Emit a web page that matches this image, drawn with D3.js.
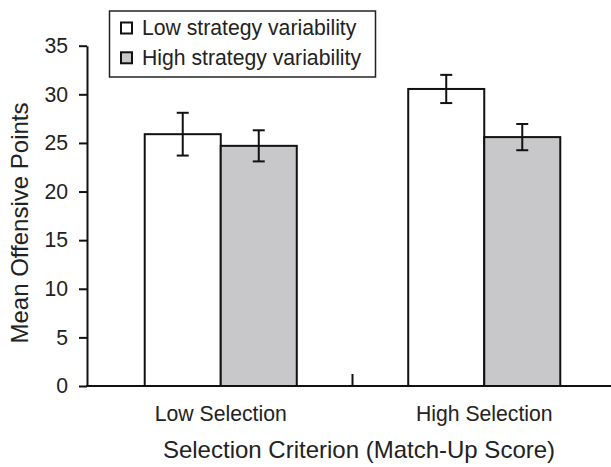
<!DOCTYPE html>
<html>
<head>
<meta charset="utf-8">
<script src="https://cdn.jsdelivr.net/npm/d3@7/dist/d3.min.js"></script>
<style>
  html, body { margin: 0; padding: 0; background: #fff; }
  svg { display: block; }
  text { font-family: "Liberation Sans", Arial, Helvetica, sans-serif; fill: #222; }
</style>
</head>
<body>
<svg id="chart" width="611" height="467"></svg>
<script>
// Mean offensive points by selection criterion and strategy variability
const categories = ["Low Selection", "High Selection"];
const seriesNames = ["Low strategy variability", "High strategy variability"];
const lowVariability = [25.9, 30.55];
const lowVariabilityErr = [2.2, 1.45];
const highVariability = [24.7, 25.6];
const highVariabilityErr = [1.6, 1.35];
const yTicks = [0, 5, 10, 15, 20, 25, 30, 35];

const fills = ["#ffffff", "#c8c8ca"];
const values = [lowVariability, highVariability];
const errors = [lowVariabilityErr, highVariabilityErr];

const labelSize = "21.2px";
const titleSize = "24px";

const svg = d3.select("#chart");
const plotLeft = 87, plotRight = 611, plotTop = 45.7, plotBottom = 386;

const y = d3.scaleLinear().domain([0, 35]).range([plotBottom, plotTop]);
const x0 = d3.scaleBand().domain(categories).range([89, 616]).padding(0);
const x1 = d3.scaleBand().domain(seriesNames).range([0, x0.bandwidth()])
  .paddingInner(0).paddingOuter(0.733);

const barData = (c, ci) => seriesNames.map((s, si) => ({ s, si, v: values[si][ci], e: errors[si][ci] }));

// bars
const groups = svg.append("g").selectAll("g")
  .data(categories)
  .join("g")
  .attr("transform", d => `translate(${x0(d)},0)`);

groups.selectAll("rect")
  .data(barData)
  .join("rect")
  .attr("x", d => x1(d.s))
  .attr("y", d => y(d.v))
  .attr("width", x1.bandwidth())
  .attr("height", d => y(0) - y(d.v))
  .attr("fill", d => fills[d.si])
  .attr("stroke", "#111")
  .attr("stroke-width", 2);

// error bars
const errG = groups.selectAll("g.err")
  .data(barData)
  .join("g")
  .attr("class", "err")
  .attr("stroke", "#111")
  .attr("stroke-width", 2);

errG.append("line")
  .attr("x1", d => x1(d.s) + x1.bandwidth() / 2)
  .attr("x2", d => x1(d.s) + x1.bandwidth() / 2)
  .attr("y1", d => y(d.v + d.e))
  .attr("y2", d => y(d.v - d.e));
errG.selectAll("line.cap")
  .data(d => [d.v + d.e, d.v - d.e].map(val => ({ d, val })))
  .join("line")
  .attr("class", "cap")
  .attr("x1", o => x1(o.d.s) + x1.bandwidth() / 2 - 6)
  .attr("x2", o => x1(o.d.s) + x1.bandwidth() / 2 + 6)
  .attr("y1", o => y(o.val))
  .attr("y2", o => y(o.val));

// y axis
const yAxis = svg.append("g")
  .attr("transform", `translate(${plotLeft},0)`)
  .call(d3.axisLeft(y).tickValues(yTicks).tickSize(8).tickPadding(11).tickSizeOuter(0));
yAxis.select(".domain").attr("stroke", "#111").attr("stroke-width", 2);
yAxis.selectAll(".tick line").attr("stroke", "#111").attr("stroke-width", 2);
yAxis.selectAll(".tick text").style("font-size", labelSize).attr("fill", "#222");

// x axis baseline and category labels
const xAxis = svg.append("g")
  .attr("transform", `translate(0,${plotBottom})`)
  .call(d3.axisBottom(x0).tickSize(0).tickPadding(20));
xAxis.select(".domain").remove();
xAxis.selectAll(".tick text").style("font-size", labelSize).attr("fill", "#222");
svg.append("line")
  .attr("x1", plotLeft - 1).attr("x2", plotRight)
  .attr("y1", plotBottom).attr("y2", plotBottom)
  .attr("stroke", "#111").attr("stroke-width", 2);

// divider tick between the two groups
const divX = (x0(categories[0]) + x0.bandwidth() + x0(categories[1])) / 2;
svg.append("line")
  .attr("x1", divX).attr("x2", divX)
  .attr("y1", plotBottom).attr("y2", plotBottom - 12)
  .attr("stroke", "#111").attr("stroke-width", 2);

// axis titles
svg.append("text")
  .attr("x", 359).attr("y", 458)
  .attr("text-anchor", "middle")
  .style("font-size", titleSize)
  .text("Selection Criterion (Match-Up Score)");
svg.append("text")
  .attr("transform", "translate(28,223) rotate(-90)")
  .attr("text-anchor", "middle")
  .style("font-size", titleSize)
  .text("Mean Offensive Points");

// legend
const legend = svg.append("g");
legend.append("rect")
  .attr("x", 109.5).attr("y", 11).attr("width", 266).attr("height", 66)
  .attr("fill", "#fff").attr("stroke", "#222").attr("stroke-width", 1.5);
const items = legend.selectAll("g.item")
  .data(seriesNames)
  .join("g")
  .attr("class", "item")
  .attr("transform", (d, i) => `translate(0,${i * 29.8})`);
items.append("rect")
  .attr("x", 121).attr("y", 22.5).attr("width", 11).attr("height", 11)
  .attr("fill", (d, i) => fills[i]).attr("stroke", "#111").attr("stroke-width", 2);
items.append("text")
  .attr("x", 142).attr("y", 35)
  .style("font-size", labelSize)
  .text(d => d);
</script>
</body>
</html>
